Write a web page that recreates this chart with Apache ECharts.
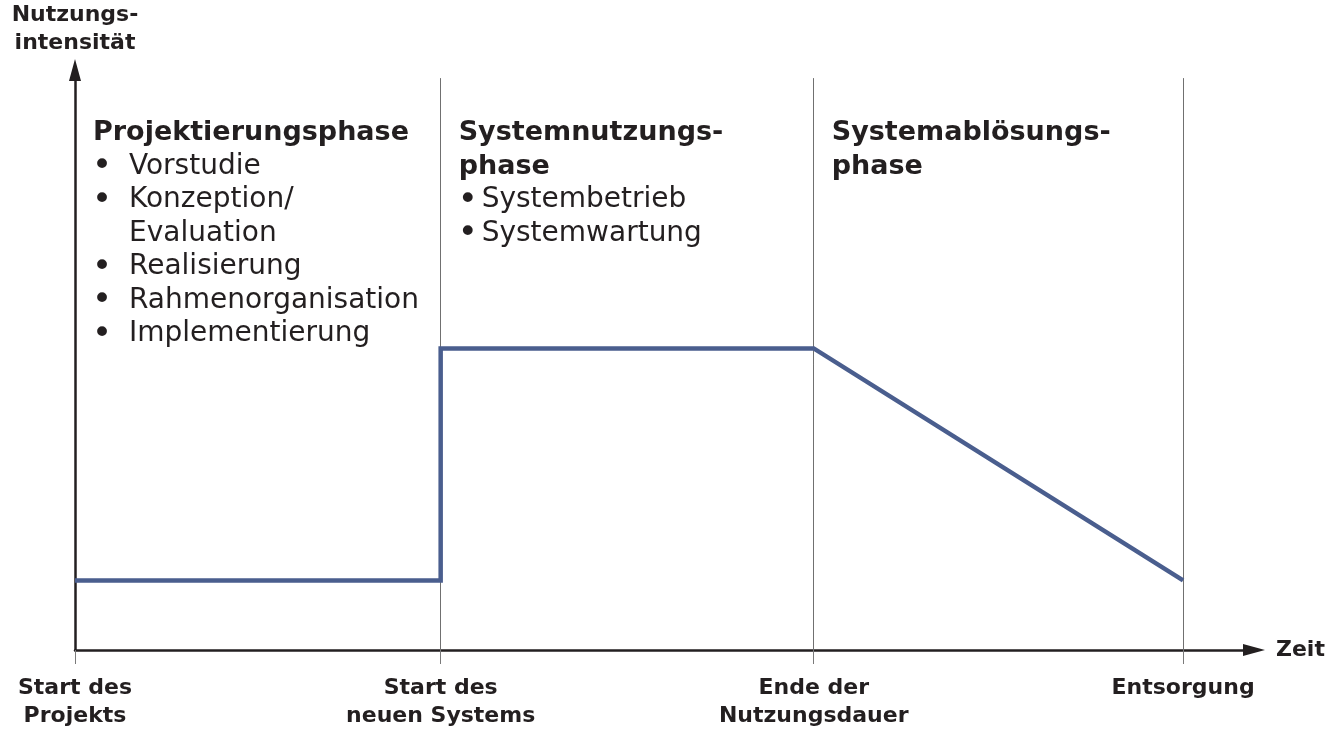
<!DOCTYPE html>
<html>
<head>
<meta charset="utf-8">
<script src="https://cdn.jsdelivr.net/npm/echarts@6/dist/echarts.min.js"></script>
<style>
html,body{margin:0;padding:0;background:#fff;}
#chart{width:1328px;height:736px;}
</style>
</head>
<body>
<div id="chart"></div>
<script>
// ---- data ----
var tickPositions = [0, 0.99, 2, 3];
var tickLabels = ['Start des\nProjekts', 'Start des\nneuen Systems', 'Ende der\nNutzungsdauer', 'Entsorgung'];
var phaseBoundaries = [0.99, 2, 3];
var boundaryTop = 9.86;
var usageX = [0, 0.99, 0.99, 2, 3];
var usageY = [1.2, 1.2, 5.2, 5.2, 1.2];
var phaseStarts = [0, 0.99, 2];
var phaseTitles = [['Projektierungsphase'], ['Systemnutzungs-', 'phase'], ['Systemablösungs-', 'phase']];
var phaseItems = [
  [['Vorstudie'], ['Konzeption/', 'Evaluation'], ['Realisierung'], ['Rahmenorganisation'], ['Implementierung']],
  [['Systembetrieb'], ['Systemwartung']],
  []
];
var yAxisName = 'Nutzungs-\nintensität';
var xAxisName = 'Zeit';

var dark = '#231f20';
var chart = echarts.init(document.getElementById('chart'));

var lineData = usageX.map(function (x, i) { return [x, usageY[i]]; });
var markData = phaseBoundaries.map(function (b) {
  return [{ coord: [b, 0] }, { coord: [b, boundaryTop] }];
});

chart.setOption({
  animation: false,
  backgroundColor: '#ffffff',
  grid: { left: 75, right: 74, top: 70, bottom: 86, containLabel: false },
  xAxis: {
    type: 'value', min: 0, max: 3.192,
    name: xAxisName, nameLocation: 'end', nameGap: 22,
    nameTextStyle: { fontFamily: 'DejaVu Sans', fontWeight: 'bold', fontSize: 22, color: dark, verticalAlign: 'middle', align: 'left', padding: [4, 0, 0, 0] },
    axisLine: { show: true, lineStyle: { color: dark, width: 2.5 }, symbol: ['none', 'triangle'], symbolSize: [12, 22] },
    axisTick: { show: true, customValues: tickPositions, length: 14, lineStyle: { color: '#7a7a7a', width: 1 } },
    axisLabel: {
      show: true, customValues: tickPositions, margin: 24,
      formatter: function (v) {
        var best = 0;
        tickPositions.forEach(function (t, i) { if (Math.abs(t - v) < Math.abs(tickPositions[best] - v)) best = i; });
        return tickLabels[best];
      },
      fontFamily: 'DejaVu Sans', fontWeight: 'bold', fontSize: 22, lineHeight: 28, color: dark, align: 'center',
      showMinLabel: true, showMaxLabel: true, hideOverlap: false
    },
    splitLine: { show: false }
  },
  yAxis: {
    type: 'value', min: 0, max: 10,
    name: yAxisName, nameLocation: 'end', nameGap: 13,
    nameTextStyle: { fontFamily: 'DejaVu Sans', fontWeight: 'bold', fontSize: 22, lineHeight: 28, color: dark, align: 'center', verticalAlign: 'bottom' },
    axisLine: { show: true, lineStyle: { color: dark, width: 2.5 }, symbol: ['none', 'triangle'], symbolSize: [12, 22] },
    axisTick: { show: false },
    axisLabel: { show: false },
    splitLine: { show: false }
  },
  series: [{
    type: 'line',
    data: lineData,
    showSymbol: false,
    symbol: 'none',
    lineStyle: { color: '#4a5e8e', width: 4.5, join: 'miter' },
    z: 3,
    markLine: {
      silent: true,
      symbol: ['none', 'none'],
      label: { show: false },
      lineStyle: { color: '#707070', width: 1, type: 'solid' },
      data: markData,
      z: 1
    }
  }]
});

// ---- text blocks inside the phases ----
var headFont = { fontFamily: 'DejaVu Sans', fontWeight: 'bold', fontSize: 27 };
var itemFont = { fontFamily: 'DejaVu Sans', fontWeight: 'normal', fontSize: 28 };
var bulletFont = { fontFamily: 'DejaVu Sans', fontWeight: 'normal', fontSize: 34 };
var firstLineY = 133, pitch = 33.5;
var elements = [];
function addText(x, y, txt, font) {
  elements.push({
    type: 'text', x: x, y: y, silent: true,
    style: { text: txt, fill: dark, fontFamily: font.fontFamily, fontWeight: font.fontWeight, fontSize: font.fontSize, verticalAlign: 'middle', align: 'left' }
  });
}
var textIndent = [36, 23, 23];
phaseStarts.forEach(function (s, p) {
  var px = chart.convertToPixel({ gridIndex: 0 }, [s, 0])[0] + 18;
  var row = 0;
  phaseTitles[p].forEach(function (t) { addText(px, firstLineY + row * pitch, t, headFont); row++; });
  phaseItems[p].forEach(function (lines) {
    addText(px - 1, firstLineY + row * pitch + 1, '•', bulletFont);
    lines.forEach(function (l) { addText(px + textIndent[p], firstLineY + row * pitch, l, itemFont); row++; });
  });
});
chart.setOption({ graphic: { elements: elements } });
</script>
</body>
</html>
